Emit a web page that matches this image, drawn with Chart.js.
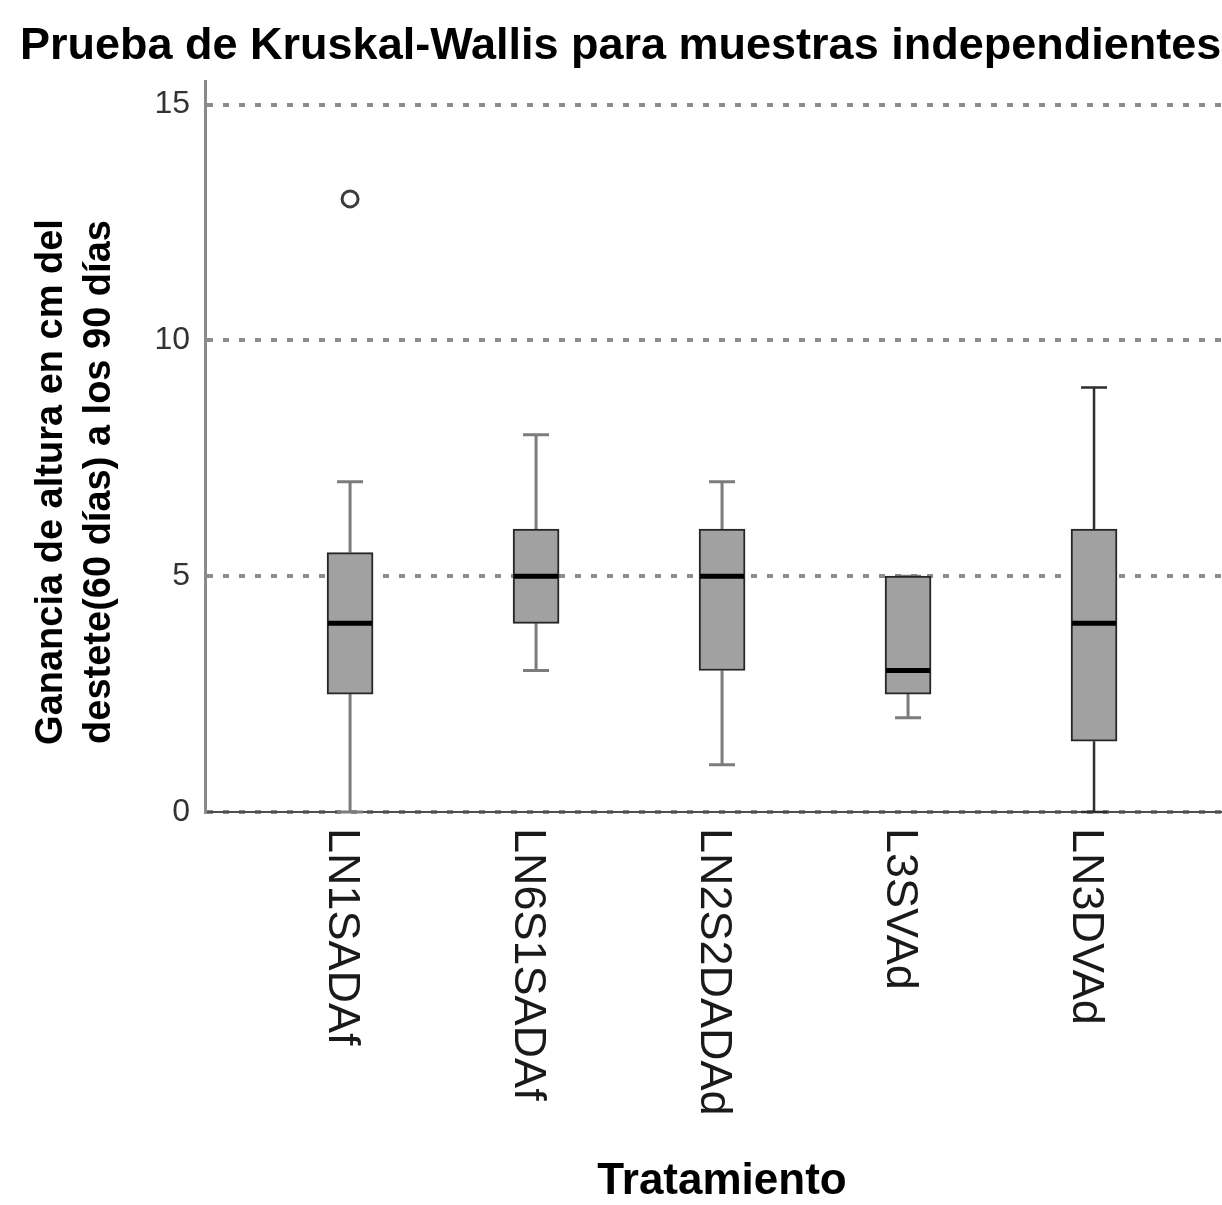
<!DOCTYPE html>
<html>
<head>
<meta charset="utf-8">
<script src="https://cdn.jsdelivr.net/npm/chart.js@4.4.1/dist/chart.umd.min.js"></script>
<style>
  html, body { margin: 0; padding: 0; background: #fff; }
  canvas { display: block; }
</style>
</head>
<body>
<canvas id="chart" width="1222" height="1205"></canvas>
<script>
// values
const categories = ['LN1SADAf', 'LN6S1SADAf', 'LN2S2DADAd', 'L3SVAd', 'LN3DVAd'];
const whiskerLow = [0, 3, 1, 2, 0];
const q1 = [2.5, 4, 3, 2.5, 1.5];
const medians = [4, 5, 5, 3, 4];
const q3 = [5.5, 6, 6, 5, 6];
const whiskerHigh = [7, 8, 7, 5, 9];
const outlierGroup = [1];
const outlierValue = [13];
const yTicks = [0, 5, 10, 15];

const whiskerColors = ['#7c7c7c', '#7c7c7c', '#7c7c7c', '#7c7c7c', '#2e2e2e'];
const FONT = '"Liberation Sans", Arial, sans-serif';

const boxParts = {
  id: 'boxParts',
  beforeDatasetsDraw(chart) {
    const ctx = chart.ctx;
    const xs = chart.scales.x, ys = chart.scales.y;
    ctx.save();
    categories.forEach((c, i) => {
      const x = xs.getPixelForValue(i + 1);
      const yLo = ys.getPixelForValue(whiskerLow[i]);
      const yQ1 = ys.getPixelForValue(q1[i]);
      const yQ3 = ys.getPixelForValue(q3[i]);
      const yHi = ys.getPixelForValue(whiskerHigh[i]);
      ctx.strokeStyle = whiskerColors[i];
      ctx.lineWidth = i === 4 ? 2.5 : 3;
      ctx.beginPath();
      ctx.moveTo(x, yLo); ctx.lineTo(x, yQ1);
      ctx.moveTo(x, yQ3); ctx.lineTo(x, yHi);
      ctx.moveTo(x - 13, yLo); ctx.lineTo(x + 13, yLo);
      ctx.moveTo(x - 13, yHi); ctx.lineTo(x + 13, yHi);
      ctx.stroke();
    });
    ctx.restore();
  },
  afterDatasetsDraw(chart) {
    const ctx = chart.ctx;
    const xs = chart.scales.x, ys = chart.scales.y;
    ctx.save();
    ctx.strokeStyle = '#000';
    ctx.lineWidth = 5;
    medians.forEach((m, i) => {
      const x = xs.getPixelForValue(i + 1);
      const y = ys.getPixelForValue(m);
      ctx.beginPath();
      ctx.moveTo(x - 22, y); ctx.lineTo(x + 22, y);
      ctx.stroke();
    });
    ctx.restore();
  },
  afterDraw(chart) {
    const ctx = chart.ctx;
    const xs = chart.scales.x, area = chart.chartArea;
    ctx.save();
    // category labels, turned to read top to bottom
    ctx.fillStyle = '#1a1a1a';
    ctx.font = '45px ' + FONT;
    ctx.textAlign = 'left';
    ctx.textBaseline = 'alphabetic';
    categories.forEach((c, i) => {
      const x = xs.getPixelForValue(i + 1);
      ctx.save();
      ctx.translate(x, area.bottom + 16);
      ctx.rotate(Math.PI / 2);
      ctx.fillText(c, 0, 21);
      ctx.restore();
    });
    // y axis title, two lines
    ctx.fillStyle = '#000';
    ctx.font = 'bold 38px ' + FONT;
    ctx.textAlign = 'center';
    const yTitle = ['Ganancia de altura en cm del', 'destete(60 días) a los 90 días'];
    yTitle.forEach((t, k) => {
      ctx.save();
      ctx.translate(62 + k * 48, 482);
      ctx.rotate(-Math.PI / 2);
      ctx.fillText(t, 0, 0);
      ctx.restore();
    });
    // x axis title
    ctx.font = 'bold 44px ' + FONT;
    ctx.textAlign = 'center';
    ctx.fillText('Tratamiento', 722, 1194);
    ctx.restore();
  }
};

new Chart(document.getElementById('chart'), {
  data: {
    datasets: [
      {
        type: 'bar',
        data: categories.map((c, i) => ({ x: i + 1, y: [q1[i], q3[i]] })),
        backgroundColor: '#a1a1a1',
        borderColor: '#262626',
        borderWidth: 2,
        borderSkipped: false,
        barThickness: 46
      },
      {
        type: 'scatter',
        data: outlierGroup.map((g, k) => ({ x: g, y: outlierValue[k] })),
        pointStyle: 'circle',
        radius: 8,
        borderWidth: 3,
        borderColor: '#3c3c3c',
        backgroundColor: 'rgba(0,0,0,0)'
      }
    ]
  },
  options: {
    responsive: false,
    animation: false,
    devicePixelRatio: 1,
    layout: { autoPadding: false, padding: { left: 20, top: 0, right: 0, bottom: 0 } },
    plugins: {
      legend: { display: false },
      tooltip: { enabled: false },
      title: {
        display: true,
        text: 'Prueba de Kruskal-Wallis para muestras independientes',
        align: 'start',
        color: '#000',
        font: { family: FONT, size: 45, weight: 'bold', lineHeight: 1.2 },
        padding: { top: 20, bottom: 7 }
      }
    },
    scales: {
      x: {
        type: 'linear',
        offset: false,
        min: 0.22,
        max: 5.688,
        grid: { display: false },
        border: { display: true, color: '#4d4d4d', width: 2 },
        ticks: { display: false },
        afterBuildTicks: s => { s.ticks = categories.map((c, i) => ({ value: i + 1 })); },
        afterFit: s => { s.height = 393; }
      },
      y: {
        min: 0,
        max: 15.5,
        afterBuildTicks: s => { s.ticks = yTicks.map(v => ({ value: v })); },
        afterFit: s => { s.width = 185; },
        grid: { color: '#8c8c8c', lineWidth: 4, drawTicks: false },
        border: { display: true, color: '#8a8a8a', width: 3, dash: [6, 10] },
        ticks: {
          color: '#333',
          padding: 15,
          font: { family: FONT, size: 32 }
        }
      }
    }
  },
  plugins: [boxParts]
});
</script>
</body>
</html>
